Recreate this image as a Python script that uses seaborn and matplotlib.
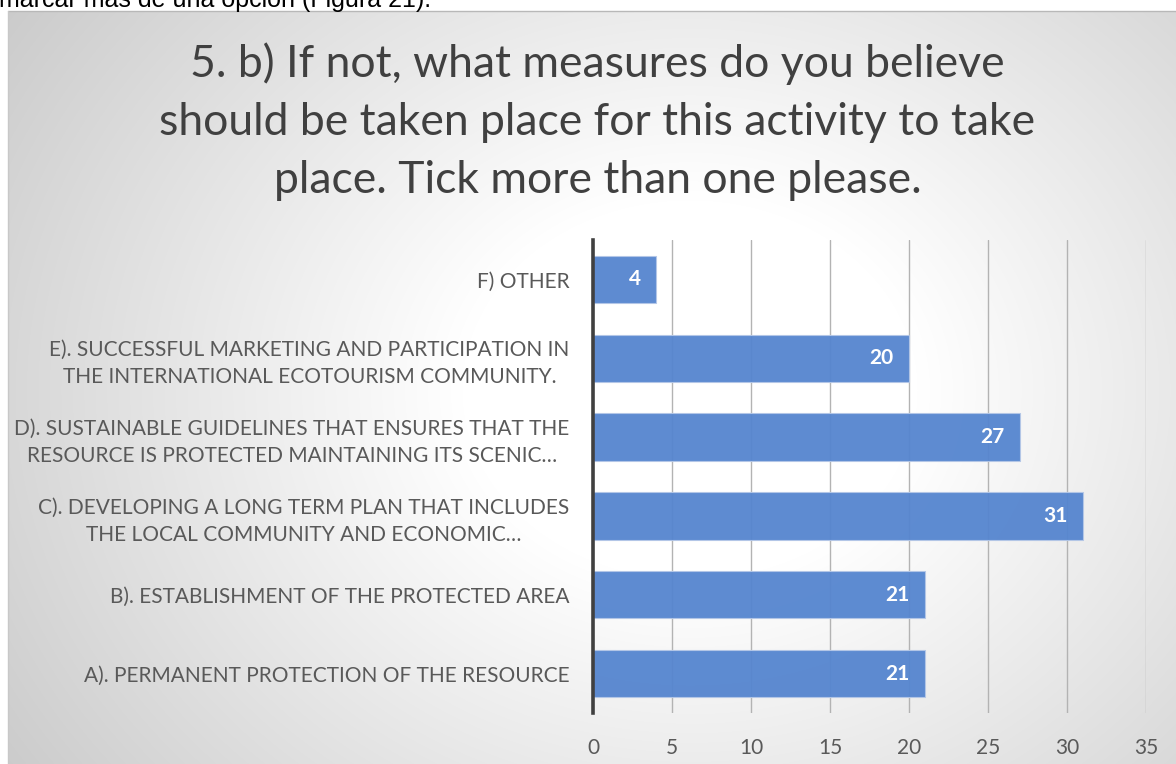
import numpy as np
import pandas as pd
import matplotlib
matplotlib.use('Agg')
import matplotlib.pyplot as plt
import seaborn as sns

# Chart data (top to bottom)
categories = [
    'F) OTHER',
    'E). SUCCESSFUL MARKETING AND PARTICIPATION IN\nTHE INTERNATIONAL ECOTOURISM COMMUNITY.',
    'D). SUSTAINABLE GUIDELINES THAT ENSURES THAT THE\nRESOURCE IS PROTECTED MAINTAINING ITS SCENIC…',
    'C). DEVELOPING A LONG TERM PLAN THAT INCLUDES\nTHE LOCAL COMMUNITY AND ECONOMIC…',
    'B). ESTABLISHMENT OF THE PROTECTED AREA',
    'A). PERMANENT PROTECTION OF THE RESOURCE',
]
counts = [4, 20, 27, 31, 21, 21]
x_ticks = [0, 5, 10, 15, 20, 25, 30, 35]

title = ('5. b) If not, what measures do you believe\n'
         'should be taken place for this activity to take\n'
         'place. Tick more than one please.')
caption_top = 'marcar más de una opción (Figura 21).'

df = pd.DataFrame({'category': categories, 'count': counts})

sns.set_theme(style='white')
plt.rcParams['font.family'] = ['Lato', 'DejaVu Sans']

W, H = 1176, 764
fig = plt.figure(figsize=(W / 100, H / 100), dpi=100)
fig.patch.set_facecolor('white')

# radial gradient background of the chart box
box_left, box_top = 8, 11
bg = fig.add_axes([box_left / W, 0, 1 - box_left / W, (H - box_top) / H], zorder=0)
yy, xx = np.mgrid[box_top:H, box_left:W]
cx, cy = 690, 390
r = np.sqrt(((xx - cx) / 1.2) ** 2 + (yy - cy) ** 2)
t = np.clip((r - 190) / 560, 0, 1)
grey = 1.0 - t * (1.0 - 0.77)
img = np.dstack([grey, grey, grey])
bg.imshow(img, aspect='auto', extent=[0, 1, 0, 1], interpolation='bilinear')
bg.set_axis_off()
fig.add_artist(plt.Line2D([box_left / W, 1], [1 - box_top / H, 1 - box_top / H],
                          color='#b8b8b8', lw=1, transform=fig.transFigure))
fig.add_artist(plt.Line2D([box_left / W, box_left / W], [0, 1 - box_top / H],
                          color='#c8c8c8', lw=1, transform=fig.transFigure))

# cut-off text above the chart box
fig.text(-0.001, 1 - 7 / H, caption_top, family='Liberation Sans', fontsize=18,
         color='black', ha='left', va='baseline')

# main axes
ax = fig.add_axes([593 / W, 1 - 713 / H, (1146 - 593) / W, (713 - 240) / H], zorder=1)
ax.patch.set_alpha(0)
sns.barplot(data=df, x='count', y='category', order=categories, orient='h',
            color='#5585cf', saturation=1, width=0.6, ax=ax, zorder=3, alpha=0.95,
            edgecolor='#b4c7e7', linewidth=0.8)

ax.set_xlim(0, 35)
ax.set_ylim(len(categories) - 0.5, -0.5)
ax.set_xticks(x_ticks)
ax.set_xlabel('')
ax.set_ylabel('')
ax.grid(axis='x', color='#b3b3b3', lw=1.0, zorder=0)
ax.grid(axis='y', visible=False)
for s in ['top', 'right', 'bottom']:
    ax.spines[s].set_visible(False)
ax.spines['left'].set_color('#404040')
ax.spines['left'].set_linewidth(2.6)
ax.spines['left'].set_zorder(5)
ax.tick_params(axis='x', length=0, pad=18, labelsize=15, labelcolor='#595959')
ax.tick_params(axis='y', length=0, pad=17, labelsize=15, labelcolor='#595959')
for lbl in ax.get_yticklabels():
    lbl.set_multialignment('center')
    lbl.set_linespacing(1.45)

for i, v in enumerate(counts):
    ax.annotate(str(v), xy=(v, i), xytext=(-11, 0), textcoords='offset points',
                ha='right', va='center', color='white', fontsize=15,
                fontweight='bold', zorder=6)

fig.text(0.508, 1 - 122 / H, title, ha='center', va='center', fontsize=32,
         color='#404040', linespacing=1.52)

fig.savefig('out.png', dpi=100)
